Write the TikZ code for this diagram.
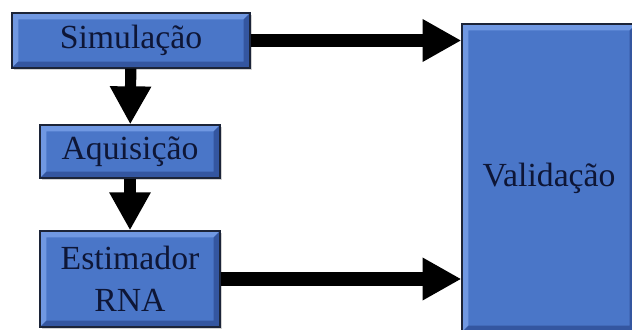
\documentclass[tikz,border=0pt]{standalone}
\usepackage{fontspec}
\setmainfont{Liberation Serif}
\usetikzlibrary{arrows.meta,shadows}

\definecolor{boxblue}{RGB}{74,118,200}
\definecolor{boxlight}{RGB}{112,152,226}
\definecolor{boxdark}{RGB}{52,86,160}
\definecolor{boxline}{RGB}{28,36,56}
\definecolor{boxtext}{RGB}{14,22,54}
\newcommand{\bev}{0.16cm}

\tikzset{
    block/.style={draw=boxline, line width=0.9pt, fill=boxblue, text=boxtext,
        font=\fontsize{24}{30}\selectfont, align=center, inner sep=0pt,
        drop shadow={shadow xshift=0.05cm, shadow yshift=-0.05cm, opacity=0.35},
        path picture={
            \path (path picture bounding box.south west) coordinate (bsw)
                  (path picture bounding box.north east) coordinate (bne);
            \fill[boxlight] (bsw) -- (bsw |- bne) -- (bne) -- ([shift={(-\bev,-\bev)}]bne)
                -- ([shift={(\bev,-\bev)}]bsw |- bne) -- ([shift={(\bev,\bev)}]bsw) -- cycle;
            \fill[boxdark] (bsw) -- (bne |- bsw) -- (bne) -- ([shift={(-\bev,-\bev)}]bne)
                -- ([shift={(-\bev,\bev)}]bne |- bsw) -- ([shift={(\bev,\bev)}]bsw) -- cycle;
        }},
    flowright/.style={line width=0.33cm, -{Triangle[width=1cm, length=0.97cm]}},
    flowdown/.style={line width=0.28cm, -{Triangle[width=0.97cm, length=0.95cm]}}
}

\begin{document}
\begin{tikzpicture}
        % \draw (0, 0) grid (16, 9);
        \useasboundingbox (0, 0) rectangle (15.8, 8.225);
        \node[block, minimum width=5.95cm, minimum height=1.375cm, name=sim] at (3.275, 7.2125) {Simulação};
        \node[block, minimum width=4.5cm, minimum height=1.325cm, name=aq] at (3.25, 4.4375) {Aquisição};
        \node[block, minimum width=4.5cm, minimum height=2.4cm, name=est] at (3.25, 1.25) {Estimador\\RNA};
        \node[block, minimum width=4.35cm, minimum height=7.7cm, name=val] at (13.725, 3.775) {Validação};
        \draw[flowdown] (sim) -- (aq);
        \draw[flowdown] (aq) -- (est);
        \draw[flowright] (sim.east) -- (sim.east -| val.west);
        \draw[flowright] (est.east) -- (est.east -| val.west);
    \end{tikzpicture}
\end{document}
